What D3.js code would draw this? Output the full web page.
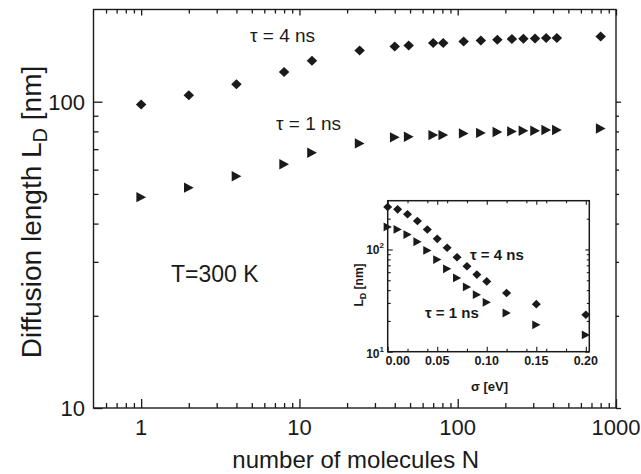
<!DOCTYPE html>
<html><head><meta charset="utf-8">
<script src="https://cdn.jsdelivr.net/npm/d3@7"></script>
<style>
body{margin:0;background:#fff}
svg{display:block}
text{font-family:"Liberation Sans",Arial,Helvetica,sans-serif;fill:#1a1a1a}
</style>
</head><body>
<svg id="c" width="641" height="474"></svg>
<script>
// ---- data ----
const moleculesN = [1, 2, 4, 8, 12, 24, 40, 49, 70, 81, 109, 140, 178, 220, 260, 308, 362, 423, 800];
const tau4Main = [98, 105, 114, 125, 136, 147, 151.4, 152.6, 155.4, 155.4, 157.3, 158.5, 159.4, 160.2, 160.6, 160.9, 161.4, 161.4, 163.4];
const tau1Main = [48.8, 52.4, 57.1, 62.5, 68.1, 73.1, 76.5, 76.8, 77.8, 77.8, 78.8, 79.1, 79.6, 80.0, 80.4, 80.4, 80.8, 80.8, 81.8];
const xTickLabels = [1, 10, 100, 1000];
const yTickLabels = [10, 100];

const sigma = [0, 0.01, 0.02, 0.03, 0.04, 0.05, 0.06, 0.07, 0.08, 0.09, 0.10, 0.12, 0.15, 0.20];
const tau4Inset = [260, 247, 221, 190, 157, 127, 104, 84, 68.5, 56.8, 48.7, 37.5, 29.2, 23];
const tau1Inset = [166, 157, 140, 119, 97.8, 79.7, 64.6, 52.7, 43, 36.1, 30.4, 23.9, 18.3, 14.6];
const insetXTickLabels = ["0.00", "0.05", "0.10", "0.15", "0.20"];
const insetXTicks = [0, 0.05, 0.10, 0.15, 0.20];
const insetYTicks = [10, 100];
const insetYTickExp = ["1", "2"];

// ---- layout ----
const svg = d3.select("#c");
const INK = "#1a1a1a";
const M = {l: 93.5, r: 616, t: 9.5, b: 408};
const x = d3.scaleLog().domain([0.5, 1000]).range([M.l, M.r]);
const y = d3.scaleLog().domain([10, 200]).range([M.b, M.t]);

const diamond = s => `M0,${-s}L${s*1.05},0L0,${s}L${-s*1.05},0Z`;
const triRight = s => `M${-s*0.92},${-s}L${s*0.95},0L${-s*0.92},${s}Z`;

// ---- main frame & ticks ----
const g = svg.append("g");
g.append("rect").attr("x", M.l).attr("y", M.t).attr("width", M.r - M.l).attr("height", M.b - M.t)
  .attr("fill", "none").attr("stroke", INK).attr("stroke-width", 1.4);

const xMajor = xTickLabels;
const xMinor = x.ticks().filter(v => !xMajor.some(m => Math.abs(m - v) < 1e-9) && v > 0.5 && v < 1000);
const yMajor = yTickLabels;
const yMinor = y.ticks().filter(v => !yMajor.includes(v) && v > 10 && v < 200);

function drawTicks(axisFn, scale, vals, size, tx, ty) {
  const a = axisFn(scale).tickValues(vals).tickSizeInner(size).tickSizeOuter(0).tickFormat("");
  const gg = g.append("g").attr("transform", `translate(${tx},${ty})`).call(a);
  gg.select(".domain").remove();
  gg.selectAll("line").attr("stroke", INK).attr("stroke-width", 1.3);
  return gg;
}
// bottom (inward)
drawTicks(d3.axisBottom, x, xMajor, -9, 0, M.b);
drawTicks(d3.axisBottom, x, xMinor, -5, 0, M.b);
// top (inward)
drawTicks(d3.axisTop, x, xMajor, -6, 0, M.t);
drawTicks(d3.axisTop, x, xMinor, -4, 0, M.t);
// left (inward)
drawTicks(d3.axisLeft, y, yMajor, -9, M.l, 0);
drawTicks(d3.axisLeft, y, yMinor, -5, M.l, 0);
// right (outward, small)
drawTicks(d3.axisRight, y, yMajor, 5, M.r, 0);
drawTicks(d3.axisRight, y, yMinor, 3, M.r, 0);

// tick labels
g.selectAll(".xl").data(xTickLabels).join("text")
  .attr("x", d => x(d)).attr("y", 435).attr("text-anchor", "middle")
  .attr("font-size", 22).text(d => d);
g.selectAll(".yl").data(yTickLabels).join("text")
  .attr("x", 85).attr("y", d => y(d) + 8).attr("text-anchor", "end")
  .attr("font-size", 22).text(d => d);

// axis titles
g.append("text").attr("x", (M.l + M.r) / 2 + 1).attr("y", 468).attr("text-anchor", "middle")
  .attr("font-size", 24).text("number of molecules N");
const yt = g.append("text").attr("transform", "translate(41,212) rotate(-90)")
  .attr("text-anchor", "middle").attr("font-size", 28);
yt.append("tspan").text("Diffusion length L");
yt.append("tspan").attr("font-size", 20).attr("dy", 6).text("D");
yt.append("tspan").attr("dy", -6).text(" [nm]");

// main markers
g.append("g").selectAll("path").data(moleculesN).join("path")
  .attr("transform", (d, i) => `translate(${x(d)},${y(tau4Main[i])})`)
  .attr("d", diamond(5)).attr("fill", INK);
g.append("g").selectAll("path").data(moleculesN).join("path")
  .attr("transform", (d, i) => `translate(${x(d)},${y(tau1Main[i])})`)
  .attr("d", triRight(5.2)).attr("fill", INK);

// annotations
g.append("text").attr("x", 250).attr("y", 42).attr("font-size", 19).text("τ = 4 ns");
g.append("text").attr("x", 276).attr("y", 130).attr("font-size", 19).text("τ = 1 ns");
g.append("text").attr("x", 171).attr("y", 282).attr("font-size", 23).text("T=300 K");

// ---- inset ----
const I = {l: 387.7, r: 589.3, t: 200.7, b: 351.7};
const xi = d3.scaleLinear().domain([0, 0.2035]).range([I.l, I.r]);
const yi = d3.scaleLog().domain([10, 300]).range([I.b, I.t]);
const gi = svg.append("g");
gi.append("rect").attr("x", I.l).attr("y", I.t).attr("width", I.r - I.l).attr("height", I.b - I.t)
  .attr("fill", "#fff").attr("stroke", INK).attr("stroke-width", 1.5);

function drawTicksI(axisFn, scale, vals, size, tx, ty) {
  const a = axisFn(scale).tickValues(vals).tickSizeInner(size).tickSizeOuter(0).tickFormat("");
  const gg = gi.append("g").attr("transform", `translate(${tx},${ty})`).call(a);
  gg.select(".domain").remove();
  gg.selectAll("line").attr("stroke", INK).attr("stroke-width", 1.1);
}
const xiMinor = d3.ticks(0, 0.2, 8).filter(v => !insetXTicks.some(m => Math.abs(m - v) < 1e-9));
const yiMinor = yi.ticks().filter(v => !insetYTicks.includes(v) && v > 10 && v < 300);
drawTicksI(d3.axisBottom, xi, insetXTicks, -5, 0, I.b);
drawTicksI(d3.axisBottom, xi, xiMinor, -3, 0, I.b);
drawTicksI(d3.axisTop, xi, insetXTicks, -4, 0, I.t);
drawTicksI(d3.axisTop, xi, xiMinor, -2.5, 0, I.t);
drawTicksI(d3.axisLeft, yi, insetYTicks, -5, I.l, 0);
drawTicksI(d3.axisLeft, yi, yiMinor, -3, I.l, 0);
drawTicksI(d3.axisRight, yi, insetYTicks, -4, I.r, 0);
drawTicksI(d3.axisRight, yi, yiMinor, -2.5, I.r, 0);

gi.selectAll(".ixl").data(insetXTicks).join("text")
  .attr("x", (d, i) => xi(d) + (i === 0 ? 10 : 0)).attr("y", 365).attr("text-anchor", "middle")
  .attr("font-size", 12.5).attr("font-weight", "bold").text((d, i) => insetXTickLabels[i]);
insetYTicks.forEach((d, i) => {
  const t = gi.append("text").attr("x", 384).attr("y", yi(d) + (i === 0 ? 6 : 5)).attr("text-anchor", "end")
    .attr("font-size", 12).attr("font-weight", "bold");
  t.append("tspan").text("10");
  t.append("tspan").attr("font-size", 8).attr("dy", -6).text(insetYTickExp[i]);
});
gi.append("text").attr("x", (I.l + I.r) / 2 + 1).attr("y", 391).attr("text-anchor", "middle")
  .attr("font-size", 13).attr("font-weight", "bold").text("σ [eV]");
const iyt = gi.append("text").attr("transform", "translate(363,285) rotate(-90)")
  .attr("text-anchor", "middle").attr("font-size", 12).attr("font-weight", "bold");
iyt.append("tspan").text("L");
iyt.append("tspan").attr("font-size", 9).attr("dy", 3).text("D");
iyt.append("tspan").attr("dy", -3).text(" [nm]");

gi.append("g").selectAll("path").data(sigma).join("path")
  .attr("transform", (d, i) => `translate(${xi(d)},${yi(tau4Inset[i])})`)
  .attr("d", diamond(4.3)).attr("fill", INK);
gi.append("g").selectAll("path").data(sigma).join("path")
  .attr("transform", (d, i) => `translate(${xi(d)},${yi(tau1Inset[i])})`)
  .attr("d", triRight(4.4)).attr("fill", INK);

gi.append("text").attr("x", 470).attr("y", 260).attr("font-size", 15).attr("font-weight", "bold").text("τ = 4 ns");
gi.append("text").attr("x", 425).attr("y", 318).attr("font-size", 15).attr("font-weight", "bold").text("τ = 1 ns");
</script>
</body></html>
